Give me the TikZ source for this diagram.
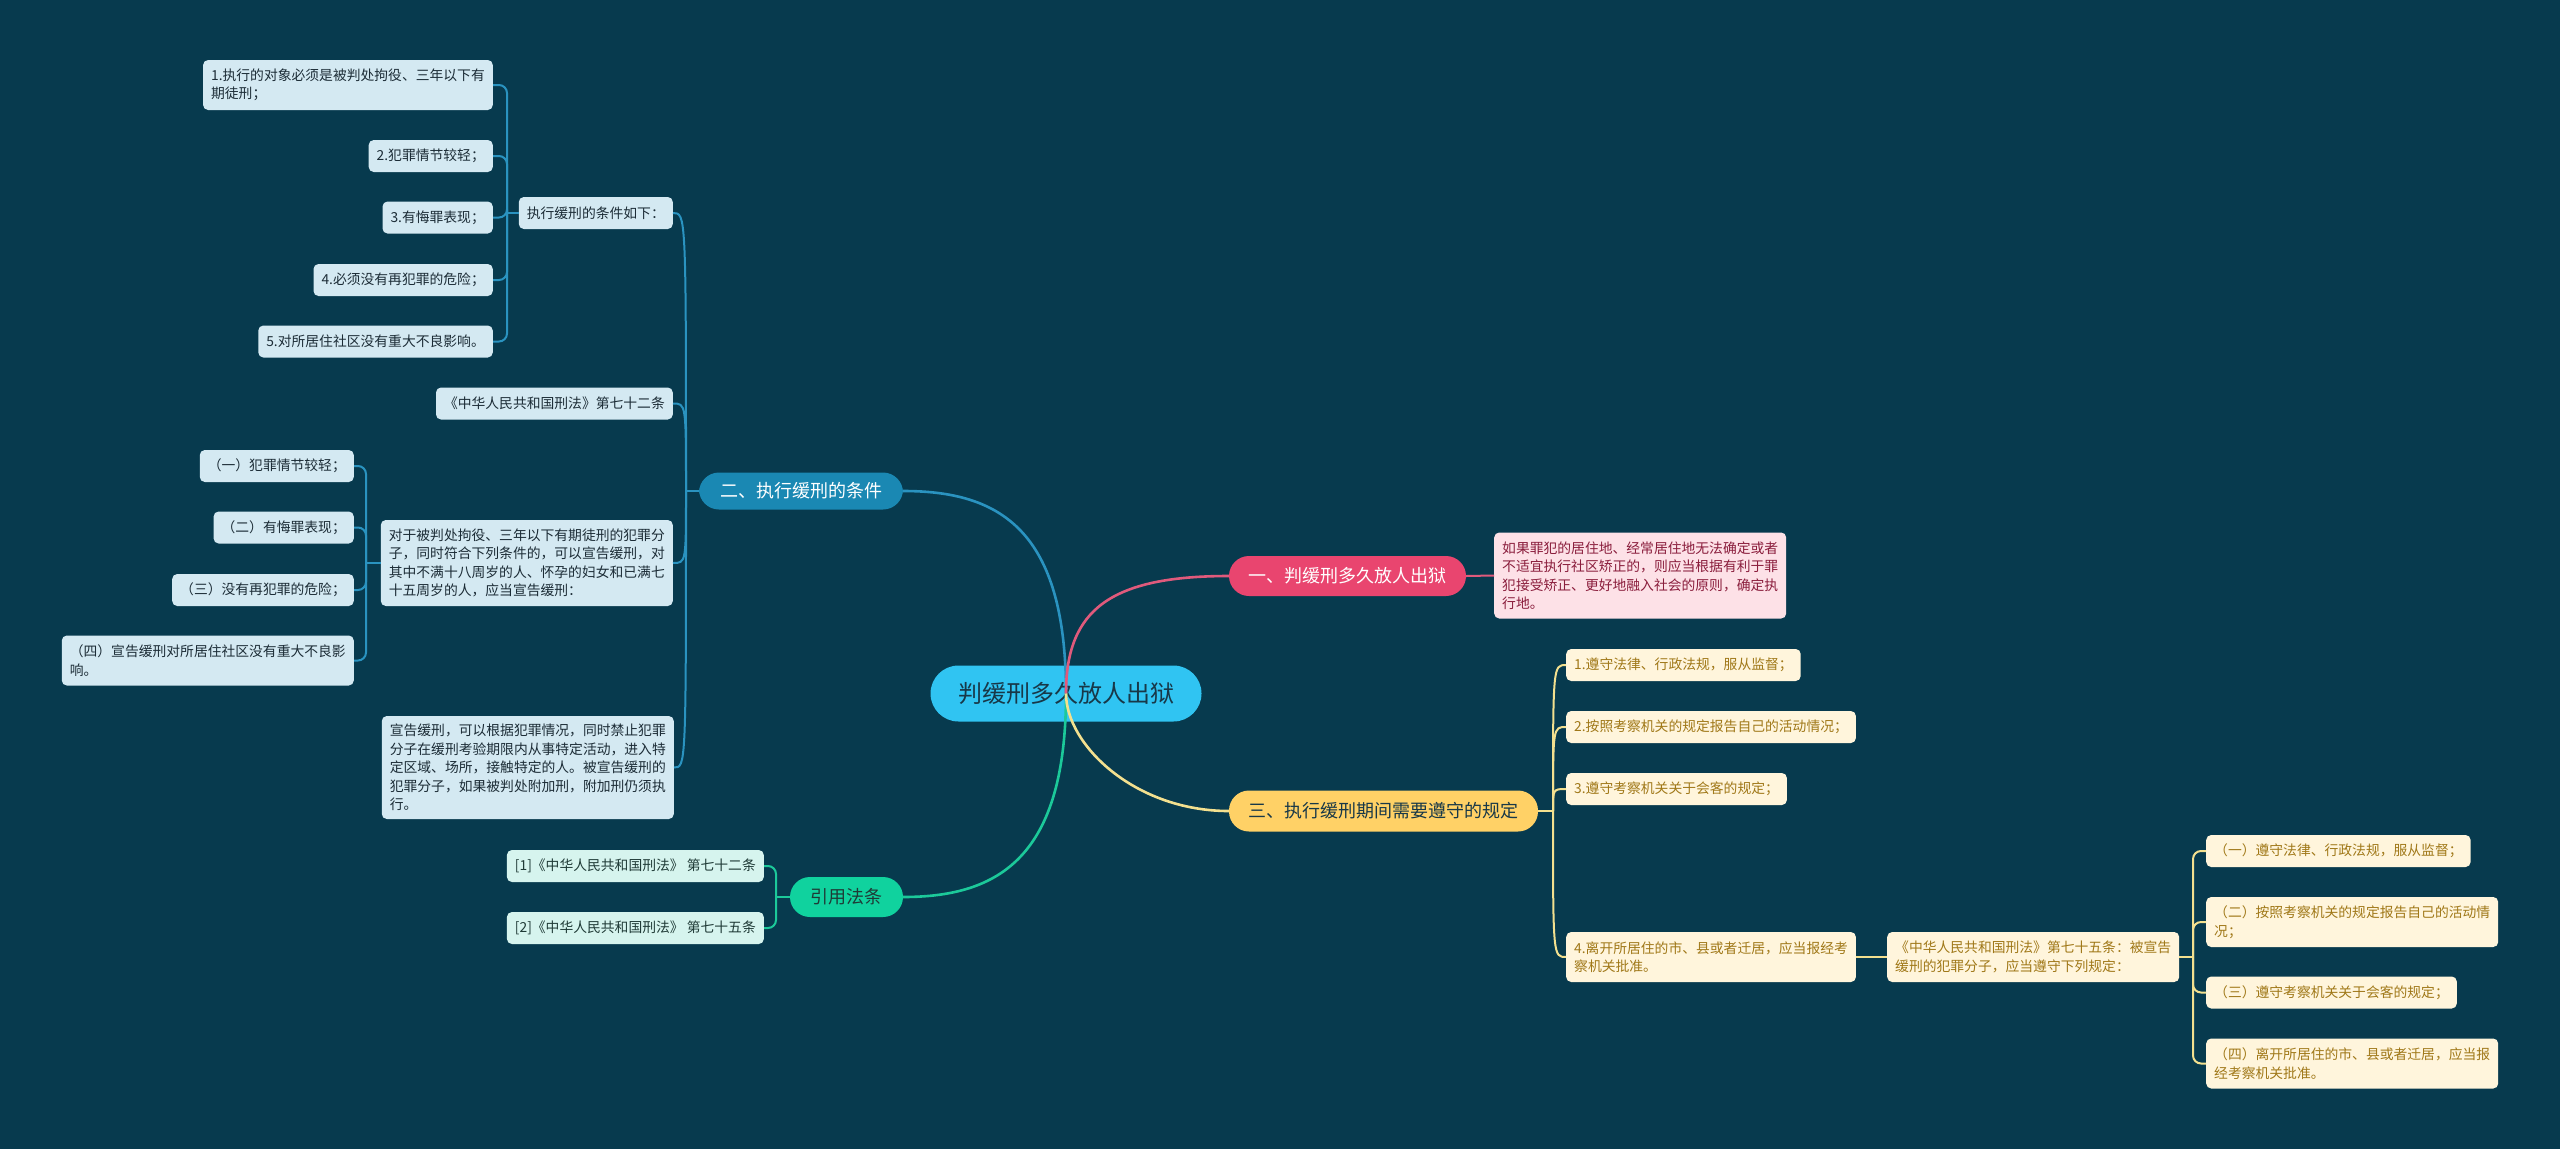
\documentclass[tikz,border=0pt]{standalone}
\usepackage{fontspec}
\setmainfont{Noto Sans CJK SC}
\definecolor{bg}{HTML}{073A4E}
\definecolor{blueline}{HTML}{2A93C0}
\definecolor{bluefill}{HTML}{D4E9F2}
\definecolor{bluetext}{HTML}{1C2C36}
\definecolor{bluebr}{HTML}{1A88B3}
\definecolor{pinkbr}{HTML}{E9456F}
\definecolor{pinkline}{HTML}{E05A7C}
\definecolor{pinkfill}{HTML}{FDE1E7}
\definecolor{pinktext}{HTML}{8A1D3C}
\definecolor{yellowbr}{HTML}{FFD166}
\definecolor{yellowline}{HTML}{F3E08F}
\definecolor{yellowfill}{HTML}{FFF5DC}
\definecolor{yellowtext}{HTML}{A07818}
\definecolor{greenbr}{HTML}{10D29E}
\definecolor{greenline}{HTML}{1CC99A}
\definecolor{greenfill}{HTML}{D6F4EE}
\definecolor{greentext}{HTML}{1F3A36}
\definecolor{centerfill}{HTML}{30C4F2}
\definecolor{centertext}{HTML}{183848}
\begin{document}
\begin{tikzpicture}[x=1pt,y=-1pt,
  box/.style={rounded corners=5pt, inner xsep=8pt, inner ysep=3pt, align=left,
    font=\fontsize{13.8}{18.5}\selectfont, minimum height=32pt},
  two/.style={minimum height=50pt},
  four/.style={minimum height=86pt},
  five/.style={minimum height=103pt},
  bluebox/.style={box, fill=bluefill, text=bluetext},
  pinkbox/.style={box, fill=pinkfill, text=pinktext},
  yellowbox/.style={box, fill=yellowfill, text=yellowtext},
  greenbox/.style={box, fill=greenfill, text=greentext},
  branch/.style={inner sep=0pt, font=\fontsize{18}{22}\selectfont, minimum height=40pt, rounded corners=20pt},
  link/.style={line width=2pt},
  mainlink/.style={line width=2.6pt},
  bar/.style={line width=2pt, rounded corners=8pt}]
\fill[bg] (0,0) rectangle (2560,1149);
\useasboundingbox (0,0) rectangle (2560,1149);

% center
\node[fill=centerfill, text=centertext, rounded corners=28pt, minimum width=271pt, minimum height=56pt, inner sep=0pt,
  font=\fontsize{24}{28}\selectfont] (ctr) at (1066,693.5) {判缓刑多久放人出狱};

% branches
\node[branch, fill=pinkbr, text=white, minimum width=237pt] (b1) at (1347.5,576) {一、判缓刑多久放人出狱};
\node[branch, fill=bluebr, text=white, minimum width=204pt, minimum height=37pt] (b2) at (801,491) {二、执行缓刑的条件};
\node[branch, fill=yellowbr, text=centertext, minimum width=309pt, minimum height=41pt] (b3) at (1383.5,811) {三、执行缓刑期间需要遵守的规定};
\node[branch, fill=greenbr, text=greentext, minimum width=113pt] (b4) at (846.5,897) {引用法条};

% branch 1
\node[pinkbox, four, anchor=west] (p1) at (1494,575.5) {如果罪犯的居住地、经常居住地无法确定或者\\不适宜执行社区矫正的，则应当根据有利于罪\\犯接受矫正、更好地融入社会的原则，确定执\\行地。};

% branch 2
\node[bluebox, anchor=east] (c1) at (673,213) {执行缓刑的条件如下：};
\node[bluebox, two, anchor=east] (n1) at (493,85) {1.执行的对象必须是被判处拘役、三年以下有\\期徒刑；};
\node[bluebox, anchor=east] (n2) at (493,156) {2.犯罪情节较轻；};
\node[bluebox, anchor=east] (n3) at (493,217.5) {3.有悔罪表现；};
\node[bluebox, anchor=east] (n4) at (493,280) {4.必须没有再犯罪的危险；};
\node[bluebox, anchor=east] (n5) at (493,341.5) {5.对所居住社区没有重大不良影响。};
\node[bluebox, anchor=east] (law) at (673,403.5) {《中华人民共和国刑法》第七十二条};
\node[bluebox, four, anchor=east] (c2) at (673,563) {对于被判处拘役、三年以下有期徒刑的犯罪分\\子，同时符合下列条件的，可以宣告缓刑，对\\其中不满十八周岁的人、怀孕的妇女和已满七\\十五周岁的人，应当宣告缓刑：};
\node[bluebox, anchor=east] (s1) at (354,466) {（一）犯罪情节较轻；};
\node[bluebox, anchor=east] (s2) at (354,527.5) {（二）有悔罪表现；};
\node[bluebox, anchor=east] (s3) at (354,590) {（三）没有再犯罪的危险；};
\node[bluebox, two, anchor=east] (s4) at (354,660.5) {（四）宣告缓刑对所居住社区没有重大不良影\\响。};
\node[bluebox, five, anchor=east] (c3) at (674,767.5) {宣告缓刑，可以根据犯罪情况，同时禁止犯罪\\分子在缓刑考验期限内从事特定活动，进入特\\定区域、场所，接触特定的人。被宣告缓刑的\\犯罪分子，如果被判处附加刑，附加刑仍须执\\行。};

% branch 3
\node[yellowbox, anchor=west] (y1) at (1566,665) {1.遵守法律、行政法规，服从监督；};
\node[yellowbox, anchor=west] (y2) at (1566,727) {2.按照考察机关的规定报告自己的活动情况；};
\node[yellowbox, anchor=west] (y3) at (1566,789) {3.遵守考察机关关于会客的规定；};
\node[yellowbox, two, anchor=west] (y4) at (1566,957) {4.离开所居住的市、县或者迁居，应当报经考\\察机关批准。};
\node[yellowbox, two, anchor=west] (y5) at (1887,957) {《中华人民共和国刑法》第七十五条：被宣告\\缓刑的犯罪分子，应当遵守下列规定：};
\node[yellowbox, anchor=west] (z1) at (2206,851) {（一）遵守法律、行政法规，服从监督；};
\node[yellowbox, two, anchor=west] (z2) at (2206,922) {（二）按照考察机关的规定报告自己的活动情\\况；};
\node[yellowbox, anchor=west] (z3) at (2206,992.5) {（三）遵守考察机关关于会客的规定；};
\node[yellowbox, two, anchor=west] (z4) at (2206,1063.5) {（四）离开所居住的市、县或者迁居，应当报\\经考察机关批准。};

% branch 4
\node[greenbox, anchor=east] (r1) at (764,866) {[1]《中华人民共和国刑法》 第七十二条};
\node[greenbox, anchor=east] (r2) at (764,928) {[2]《中华人民共和国刑法》 第七十五条};

% bar coordinates
\coordinate (bbar) at (686,491);
\coordinate (nbar) at (507,213);
\coordinate (sbar) at (366,563);
\coordinate (ybar) at (1553,811);
\coordinate (zbar) at (2193,957);
\coordinate (rbar) at (776,897);

% main links
\draw[mainlink, blueline] (ctr.center) .. controls (1066,530) and (1000,491) .. (b2.east);
\draw[mainlink, greenline] (ctr.center) .. controls (1066,856) and (1000,897) .. (b4.east);
\draw[mainlink, pinkline] (ctr.center) .. controls (1066,610) and (1110,576) .. (b1.west);
\draw[mainlink, yellowline] (ctr.center) .. controls (1066,745) and (1135,811) .. (b3.west);

% branch 1 link
\draw[link, pinkline] (b1.east) -- (p1.west);

% branch 2 links
\draw[link, blueline] (b2.west) -- (bbar);
\foreach \t in {c1,law,c2,c3}
  \draw[link, blueline] (bbar) .. controls (bbar |- \t.east) and (bbar |- \t.east) .. (\t.east);
\draw[link, blueline] (c1.west) -- (nbar);
\foreach \t in {n1,n2,n3,n4,n5}
  \draw[bar, blueline] (nbar) |- (\t.east);
\draw[link, blueline] (c2.west) -- (sbar);
\foreach \t in {s1,s2,s3,s4}
  \draw[bar, blueline] (sbar) |- (\t.east);

% branch 3 links
\draw[link, yellowline] (b3.east) -- (ybar);
\foreach \t in {y1,y2,y3,y4}
  \draw[link, yellowline] (ybar) .. controls (ybar |- \t.west) and (ybar |- \t.west) .. (\t.west);
\draw[link, yellowline] (y4.east) -- (y5.west);
\draw[link, yellowline] (y5.east) -- (zbar);
\foreach \t in {z1,z2,z3,z4}
  \draw[bar, yellowline] (zbar) |- (\t.west);

% branch 4 links
\draw[link, greenline] (b4.west) -- (rbar);
\foreach \t in {r1,r2}
  \draw[bar, greenline] (rbar) |- (\t.east);
\end{tikzpicture}
\end{document}
